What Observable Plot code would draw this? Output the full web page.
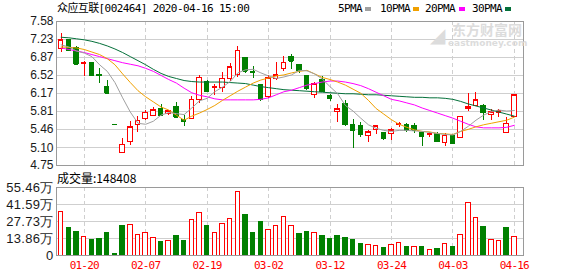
<!DOCTYPE html>
<html>
<head>
<meta charset="utf-8">
<script src="https://cdn.jsdelivr.net/npm/d3@7"></script>
<script src="https://cdn.jsdelivr.net/npm/@observablehq/plot@0.6"></script>
<style>
  html, body { margin: 0; padding: 0; background: #fff; }
  #wrap { position: relative; width: 578px; height: 276px; overflow: hidden; background: #fff; }
  #price, #vol { position: absolute; left: 0; }
  #price { top: 0; z-index: 1; }
  #vol { top: 170px; z-index: 1; }
  .txt { position: absolute; white-space: nowrap; font-family: "DejaVu Sans Mono", "Noto Sans CJK SC", monospace; font-size: 11px; letter-spacing: -0.6px; line-height: 12px; color: #000; z-index: 3; }
  .sw { position: absolute; width: 6px; height: 4px; z-index: 3; }
  .wm { position: absolute; white-space: nowrap; color: #dcdcdc; z-index: 2; pointer-events: none; }
  #vol g[aria-label="x-axis tick label"] { font-family: "DejaVu Sans Mono", monospace; font-size: 11px; letter-spacing: -0.8px; }
  #vol g[aria-label="y-axis tick label"] { font-size: 13px; letter-spacing: 0.3px; }
</style>
</head>
<body>
<div id="wrap">
  <div id="price"></div>
  <div id="vol"></div>
</div>
<script>
// ---- data ----
const title = "众应互联[002464] 2020-04-16 15:00";
const volLabel = "成交量:148408";
const maNames = ["5PMA", "10PMA", "20PMA", "30PMA"];
const maColors = ["#a0a0a0", "#f0a000", "#ff00ff", "#04703a"];

const dates = ["01-15","01-16","01-17","01-20","01-21","01-22","01-23",
  "02-03","02-04","02-05","02-06","02-07","02-10","02-11","02-12","02-13","02-14","02-17","02-18","02-19","02-20","02-21","02-24","02-25","02-26","02-27","02-28",
  "03-02","03-03","03-04","03-05","03-06","03-09","03-10","03-11","03-12","03-13","03-16","03-17","03-18","03-19","03-20","03-23","03-24","03-25","03-26","03-27","03-30","03-31",
  "04-01","04-02","04-03","04-07","04-08","04-09","04-10","04-13","04-14","04-15","04-16"];

const open = [7.04,7.21,7.05,6.74,6.76,6.53,6.30,5.55,5.00,5.21,
  5.55,5.67,5.73,5.86,5.76,5.90,5.65,5.67,6.04,6.39,
  6.28,6.27,6.45,6.53,6.87,6.58,6.34,6.09,6.45,6.65,
  6.88,6.72,6.51,6.14,6.44,6.11,5.80,5.96,5.54,5.52,
  5.33,5.45,5.39,5.37,5.55,5.55,5.52,5.39,5.35,5.36,
  5.19,5.33,5.29,5.86,5.91,5.91,5.74,5.78,5.39,5.71];
const high = [7.34,7.22,7.08,6.80,6.78,6.66,6.43,5.55,5.28,5.61,
  5.72,5.83,5.89,5.94,5.84,5.98,5.73,6.11,6.51,6.42,
  6.34,6.57,6.76,7.09,6.88,6.70,6.35,6.52,6.77,6.90,
  6.94,6.73,6.52,6.39,6.49,6.15,5.94,6.03,5.65,5.60,
  5.44,5.52,5.40,5.47,5.59,5.57,5.58,5.40,5.39,5.40,
  5.37,5.36,5.71,6.16,6.18,5.95,5.85,5.85,5.70,6.13];
const low = [6.98,6.99,6.72,6.50,6.52,6.37,6.16,5.55,5.00,5.14,
  5.40,5.63,5.72,5.72,5.73,5.67,5.52,5.65,5.97,6.20,
  6.13,6.19,6.41,6.47,6.56,6.45,6.01,6.06,6.43,6.60,
  6.64,6.56,6.22,6.07,6.18,6.01,5.60,5.52,5.09,5.31,
  5.21,5.36,5.25,5.25,5.49,5.40,5.37,5.13,5.31,5.21,
  5.13,5.17,5.29,5.82,5.90,5.64,5.63,5.70,5.39,5.70];
const close = [7.21,7.01,6.74,6.76,6.52,6.51,6.17,5.55,5.16,5.50,
  5.63,5.79,5.84,5.73,5.82,5.70,5.61,6.04,6.47,6.20,
  6.30,6.45,6.68,7.01,6.60,6.57,6.05,6.46,6.52,6.77,
  6.80,6.61,6.26,6.35,6.20,6.06,5.86,5.55,5.44,5.35,
  5.40,5.52,5.29,5.44,5.57,5.43,5.44,5.32,5.36,5.22,
  5.33,5.19,5.71,5.89,6.03,5.79,5.80,5.82,5.57,6.13];
const volume = [356000,227000,194000,151000,130000,138000,186000,16000,243000,251000,
  170000,186000,143000,108000,121000,159000,121000,289000,343000,243000,
  186000,256000,297000,516000,332000,186000,275000,208000,240000,313000,
  240000,178000,194000,186000,159000,138000,159000,146000,130000,97000,
  86000,81000,65000,86000,103000,73000,73000,73000,46000,57000,
  94000,73000,167000,426000,305000,235000,130000,119000,227000,148408];

const ma5 = [7.12,7.08,7.00,6.96,6.89,6.73,6.60,6.38,6.08,5.80,
  5.58,5.56,5.62,5.74,5.79,5.77,5.75,5.88,6.02,6.07,
  6.20,6.29,6.40,6.57,6.63,6.64,6.57,6.51,6.46,6.49,
  6.53,6.62,6.61,6.55,6.45,6.30,6.16,5.93,5.82,5.68,
  5.55,5.48,5.44,5.42,5.44,5.44,5.43,5.42,5.40,5.38,
  5.36,5.35,5.42,5.52,5.64,5.74,5.81,5.84,5.82,5.83];
const ma10 = [7.08,7.07,7.06,7.03,6.98,6.93,6.85,6.73,6.55,6.38,
  6.22,6.10,6.00,5.90,5.84,5.74,5.64,5.72,5.78,5.85,
  5.93,6.03,6.12,6.21,6.29,6.37,6.43,6.47,6.51,6.53,
  6.57,6.60,6.62,6.55,6.48,6.44,6.39,6.33,6.25,6.17,
  6.03,5.87,5.76,5.65,5.56,5.50,5.45,5.42,5.41,5.38,
  5.37,5.36,5.42,5.46,5.51,5.55,5.58,5.61,5.64,5.70];
const ma20 = [7.06,7.03,7.00,6.97,6.93,6.89,6.85,6.81,6.77,6.74,
  6.71,6.66,6.60,6.52,6.44,6.37,6.27,6.18,6.13,6.10,
  6.06,6.04,6.04,6.04,6.04,6.04,6.05,6.08,6.14,6.20,
  6.23,6.28,6.33,6.36,6.39,6.41,6.41,6.39,6.36,6.32,
  6.26,6.19,6.12,6.05,6.02,5.98,5.94,5.88,5.83,5.78,
  5.73,5.68,5.62,5.56,5.51,5.49,5.49,5.49,5.50,5.54];
const ma30 = [7.27,7.26,7.24,7.22,7.19,7.15,7.10,7.04,6.97,6.89,
  6.81,6.73,6.64,6.56,6.50,6.46,6.42,6.40,6.39,6.39,
  6.39,6.39,6.38,6.37,6.36,6.33,6.30,6.28,6.26,6.24,
  6.23,6.22,6.21,6.20,6.19,6.18,6.17,6.16,6.16,6.15,
  6.14,6.14,6.13,6.12,6.11,6.10,6.09,6.09,6.08,6.08,
  6.07,6.05,6.01,5.96,5.92,5.88,5.84,5.80,5.76,5.72];

const priceTicks = [4.75, 5.10, 5.46, 5.81, 6.17, 6.52, 6.87, 7.23, 7.58];
const volTicks = [0, 138600, 277300, 415900, 554600];
const volTickLabels = ["0", "13.86万", "27.73万", "41.59万", "55.46万"];
const tickDates = ["01-20", "02-07", "02-19", "03-02", "03-12", "03-24", "04-03", "04-16"];

// ---- build ----
const RED = "#ff0000", GREEN = "#008000";
const W = 578, ML = 56, MR = 55;
const xDomain = [-0.61, 60.19];
const BW = 0.29;

const rows = dates.map((d, i) => {
  const prev = i ? close[i - 1] : open[i];
  return {i, d, o: open[i], h: high[i], l: low[i], c: close[i], v: volume[i],
    up: close[i] > open[i] || (close[i] === open[i] && close[i] >= prev),
    vUp: close[i] >= prev};
});
const upR = rows.filter(r => r.up), dnR = rows.filter(r => !r.up);
const vUpR = rows.filter(r => r.vUp), vDnR = rows.filter(r => !r.vUp);
const tickIdx = tickDates.map(t => dates.indexOf(t));
const idx = dates.map((d, i) => i);
const mas = [ma5, ma10, ma20, ma30];

const axisFont = {fontFamily: "'Liberation Sans', Arial, sans-serif", fontSize: "12px", color: "#1a1a1a", background: "transparent"};
const crisp = {shapeRendering: "crispEdges"};

// price panel: plot area y 21..165 (svg taller so the 4.75 label is not clipped)
const price = Plot.plot({
  width: W, height: 176,
  marginLeft: ML, marginRight: MR, marginTop: 21, marginBottom: 11,
  style: axisFont,
  x: {domain: xDomain, axis: null},
  y: {domain: [4.75, 7.58], axis: null},
  marks: [
    Plot.ruleY(priceTicks, {stroke: "#cfcfcf", ...crisp}),
    Plot.ruleX(tickIdx, {stroke: "#cfcfcf", strokeDasharray: "4,3", ...crisp}),
    Plot.ruleX(dnR, {x: "i", y1: "l", y2: "h", stroke: GREEN, ...crisp}),
    Plot.rect(dnR, {x1: r => r.i - BW, x2: r => r.i + BW, y1: "o", y2: "c", fill: GREEN, stroke: GREEN, ...crisp}),
    Plot.ruleY(dnR, {x1: r => r.i - BW, x2: r => r.i + BW, y: "c", stroke: GREEN, ...crisp}),
    Plot.ruleX(upR, {x: "i", y1: "l", y2: "h", stroke: RED, ...crisp}),
    Plot.rect(upR, {x1: r => r.i - BW, x2: r => r.i + BW, y1: "o", y2: "c", fill: "white", stroke: RED, ...crisp}),
    Plot.ruleY(upR, {x1: r => r.i - BW, x2: r => r.i + BW, y: "c", stroke: RED, ...crisp}),
    ...[3, 2, 1, 0].map(k => Plot.line(idx, {x: i => i, y: i => mas[k][i], stroke: maColors[k], strokeWidth: 1})),
    Plot.frame({stroke: "#9a9a9a", ...crisp}),
    Plot.axisY(priceTicks, {anchor: "left", tickSize: 0, tickPadding: 3, label: null, tickFormat: d => d.toFixed(2)})
  ]
});
document.getElementById("price").appendChild(price);

const vol = Plot.plot({
  width: W, height: 106,
  marginLeft: ML, marginRight: MR, marginTop: 17, marginBottom: 21,
  style: axisFont,
  x: {domain: xDomain, axis: null},
  y: {domain: [0, volTicks[volTicks.length - 1]], axis: null},
  marks: [
    Plot.ruleY(volTicks.slice(1, -1), {stroke: "#cfcfcf", ...crisp}),
    Plot.ruleX(tickIdx, {stroke: "#cfcfcf", strokeDasharray: "4,3", ...crisp}),
    Plot.rect(vDnR, {x1: r => r.i - BW, x2: r => r.i + BW, y1: 0, y2: "v", fill: GREEN, stroke: GREEN, ...crisp}),
    Plot.rect(vUpR, {x1: r => r.i - BW, x2: r => r.i + BW, y1: 0, y2: "v", fill: "white", stroke: RED, ...crisp}),
    Plot.frame({stroke: "#9a9a9a", ...crisp}),
    Plot.axisY(volTicks, {anchor: "left", tickSize: 0, tickPadding: 3, label: null, tickFormat: d => volTickLabels[volTicks.indexOf(d)]}),
    Plot.axisX(tickIdx, {anchor: "bottom", tickSize: 0, tickPadding: 6, label: null, color: RED, tickFormat: i => dates[i]})
  ]
});
document.getElementById("vol").appendChild(vol);

// ---- texts (title, legend, volume label, watermark) ----
const wrap = document.getElementById("wrap");
function addDiv(cls, text, left, top, extra) {
  const el = document.createElement("div");
  el.className = cls;
  el.textContent = text;
  el.style.left = left + "px";
  el.style.top = top + "px";
  if (extra) Object.assign(el.style, extra);
  wrap.appendChild(el);
  return el;
}
addDiv("txt", title, 57, 3);
const legX = [338, 380, 425, 472];
const swX = [365, 413, 459, 505];
maNames.forEach((n, k) => {
  addDiv("txt", n, legX[k], 3);
  addDiv("sw", "", swX[k], 7, {background: maColors[k]});
});
addDiv("txt", volLabel, 57, 172, {fontFamily: "'Noto Sans CJK SC', 'DejaVu Sans', sans-serif", fontSize: "12px", letterSpacing: "0px", lineHeight: "12px"});
addDiv("wm", "东方财富网", 452, 22, {fontFamily: "'Noto Sans CJK SC', sans-serif", fontSize: "14px", fontWeight: "bold", letterSpacing: "0px", lineHeight: "15px"});
addDiv("wm", "eastmoney.com", 448, 39, {fontFamily: "'DejaVu Sans', sans-serif", fontSize: "9px", fontWeight: "bold", lineHeight: "9px"});
addDiv("wm", "◢", 430, 24, {fontSize: "20px", lineHeight: "22px", fontFamily: "'DejaVu Sans', sans-serif"});
</script>
</body>
</html>
